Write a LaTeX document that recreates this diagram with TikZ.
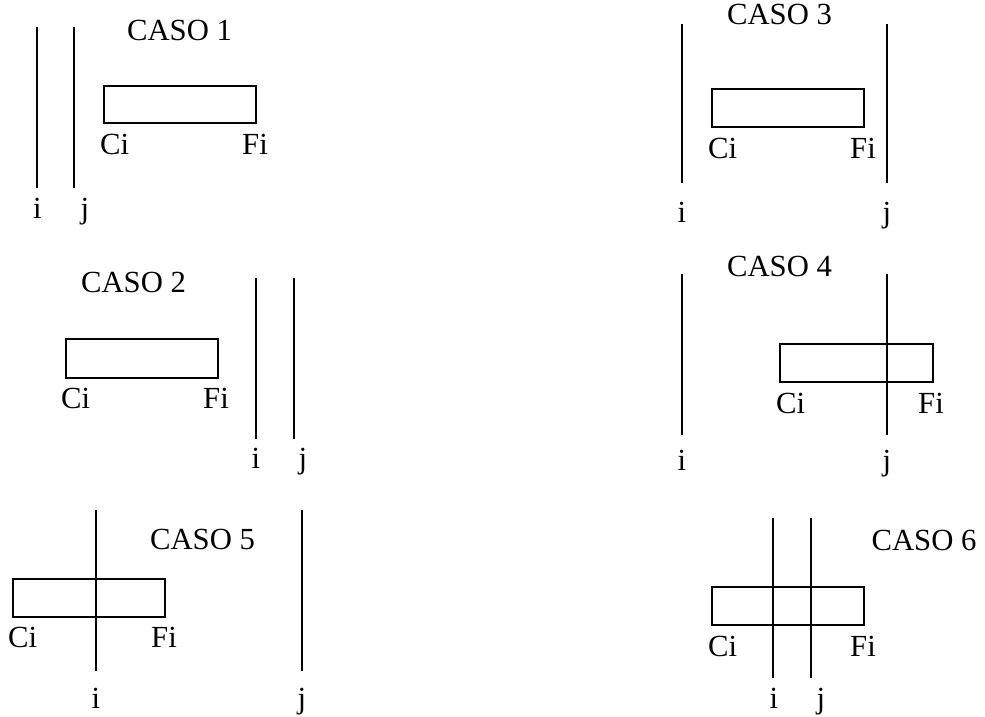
\documentclass[tikz,border=0pt]{standalone}
\usepackage{fontspec}
\setmainfont{Liberation Serif}
\usepackage{tikz}

\tikzset{
  lbl/.style={font=\fontsize{30.7}{36}\selectfont, inner sep=0pt, anchor=base},
  lblw/.style={lbl, anchor=base west},
  box/.style={line width=1.8pt},
  bar/.style={line width=1.8pt}
}

\begin{document}
\begin{tikzpicture}[x=1pt, y=-1pt]
    \useasboundingbox (0,0) rectangle (985,717);
    % -------------------------
    % Caso 1 (both limits left of the box)
    % -------------------------
    \node[lbl] (caso1) at (179.5, 41) {CASO 1};
    \draw[bar] (37, 27) -- (37, 188);
    \draw[bar] (74, 27) -- (74, 188);
    \draw[box] (104, 86) rectangle (256, 123);
    \node[lblw] (ci1) at (100, 154) {Ci};
    \node[lblw] (fi1) at (242, 154) {Fi};
    \node[lbl] (i1) at (37.5, 218) {i};
    \node[lbl] (j1) at (85, 218) {j};

    % -------------------------
    % Caso 2 (both limits right of the box)
    % -------------------------
    \node[lbl] (caso2) at (133.5, 292) {CASO 2};
    \draw[box] (66, 339) rectangle (218, 378);
    \node[lblw] (ci2) at (61, 408) {Ci};
    \node[lblw] (fi2) at (203, 408) {Fi};
    \draw[bar] (256, 278) -- (256, 439);
    \draw[bar] (294, 278) -- (294, 439);
    \node[lbl] (i2) at (256, 468) {i};
    \node[lbl] (j2) at (303, 468) {j};

    % -------------------------
    % Caso 3 (box between i and j)
    % -------------------------
    \node[lbl] (caso3) at (779.5, 25) {CASO 3};
    \draw[bar] (682, 24) -- (682, 183);
    \draw[bar] (887, 24) -- (887, 183);
    \draw[box] (712, 89) rectangle (864, 127);
    \node[lblw] (ci3) at (708, 158) {Ci};
    \node[lblw] (fi3) at (850, 158) {Fi};
    \node[lbl] (i3) at (682, 222) {i};
    \node[lbl] (j3) at (887, 222) {j};

    % -------------------------
    % Caso 4 (j cuts the box)
    % -------------------------
    \node[lbl] (caso4) at (779.5, 276) {CASO 4};
    \draw[bar] (682, 274) -- (682, 435);
    \draw[box] (780, 344) rectangle (933, 382);
    \draw[bar] (887, 274) -- (887, 435);
    \node[lblw] (ci4) at (776, 413) {Ci};
    \node[lblw] (fi4) at (918, 413) {Fi};
    \node[lbl] (i4) at (682, 470) {i};
    \node[lbl] (j4) at (887, 470) {j};

    % -------------------------
    % Caso 5 (i cuts the box)
    % -------------------------
    \node[lbl] (caso5) at (202.5, 549) {CASO 5};
    \draw[box] (13, 579) rectangle (165, 617);
    \draw[bar] (96, 510) -- (96, 671);
    \draw[bar] (302, 510) -- (302, 671);
    \node[lblw] (ci5) at (8, 647) {Ci};
    \node[lblw] (fi5) at (151, 647) {Fi};
    \node[lbl] (i5) at (96, 708) {i};
    \node[lbl] (j5) at (302, 708) {j};

    % -------------------------
    % Caso 6 (i and j both cut the box)
    % -------------------------
    \node[lbl] (caso6) at (924, 550) {CASO 6};
    \draw[box] (712, 587) rectangle (864, 625);
    \draw[bar] (773, 518) -- (773, 678);
    \draw[bar] (811, 518) -- (811, 678);
    \node[lblw] (ci6) at (708, 656) {Ci};
    \node[lblw] (fi6) at (850, 656) {Fi};
    \node[lbl] (i6) at (774, 708) {i};
    \node[lbl] (j6) at (821, 708) {j};

\end{tikzpicture}
\end{document}
